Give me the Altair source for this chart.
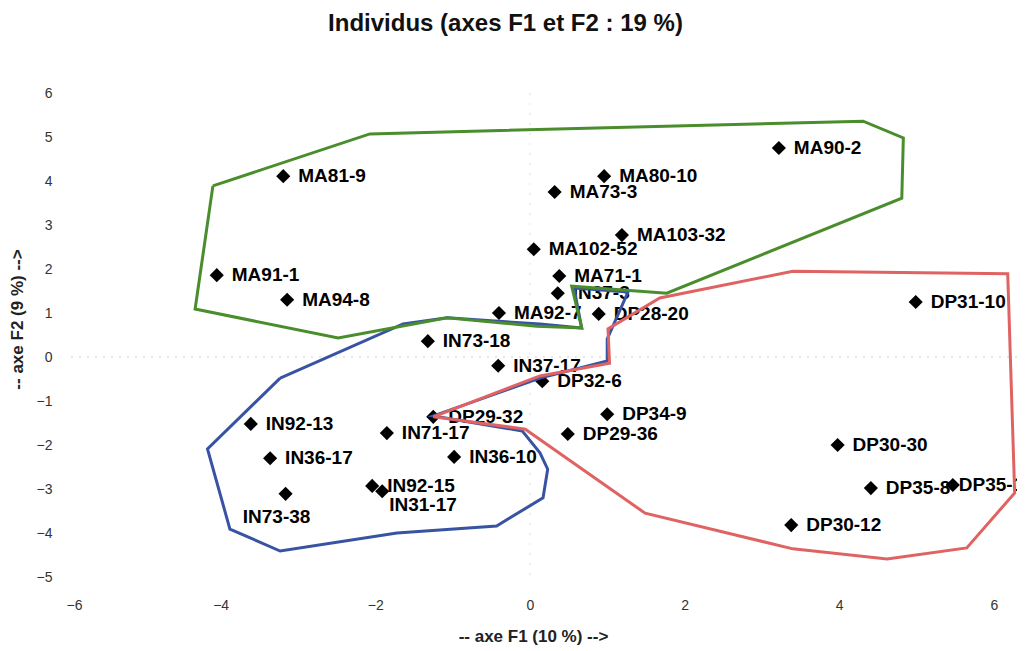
import altair as alt
import pandas as pd

# Individuals (F1, F2 coordinates)
names = ["MA90-2", "MA81-9", "MA80-10", "MA73-3", "MA103-32", "MA102-52", "MA91-1",
         "MA71-1", "MA94-8", "IN37-3", "MA92-7", "DP28-20", "DP31-10", "IN73-18",
         "IN37-17", "DP32-6", "DP29-32", "DP34-9", "IN92-13", "IN71-17", "DP29-36",
         "DP30-30", "IN36-17", "IN36-10", "IN92-15", "IN31-17", "IN73-38", "DP35-8",
         "DP35-11", "DP30-12"]
f1 = [3.22, -3.19, 0.96, 0.32, 1.19, 0.05, -4.05,
      0.38, -3.14, 0.36, -0.40, 0.89, 4.99, -1.32,
      -0.41, 0.16, -1.25, 1.00, -3.61, -1.85, 0.49,
      3.98, -3.36, -0.98, -2.04, -1.91, -3.16, 4.41,
      5.47, 3.38]
f2 = [4.75, 4.11, 4.11, 3.75, 2.77, 2.45, 1.86,
      1.84, 1.30, 1.45, 1.00, 0.98, 1.25, 0.36,
      -0.20, -0.55, -1.36, -1.30, -1.52, -1.73, -1.75,
      -2.00, -2.30, -2.27, -2.93, -3.05, -3.11, -2.98,
      -2.91, -3.82]

# Hand-drawn group outlines (vertices)
green_f1 = [-4.10, -2.07, 4.31, 4.83, 4.81, 1.77, 0.54, 0.67, 0.09, -1.07, -2.48, -4.33]
green_f2 = [3.89, 5.07, 5.36, 4.98, 3.61, 1.45, 1.61, 0.66, 0.70, 0.89, 0.43, 1.09]
blue_f1 = [-3.23, -1.64, -1.07, 0.13, 0.67, 0.57, 1.27, 1.00, 1.00, 0.13, -1.25,
           -0.10, 0.13, 0.23, 0.17, -0.43, -1.72, -3.23, -3.88, -4.17]
blue_f2 = [-0.48, 0.75, 0.89, 0.75, 0.66, 1.57, 1.48, 0.41, -0.09, -0.48, -1.34,
           -1.68, -2.18, -2.55, -3.20, -3.84, -4.00, -4.41, -3.91, -2.09]
red_f1 = [-1.25, 0.13, 1.03, 1.01, 1.68, 3.40, 6.18, 6.27, 5.65, 4.62, 3.40, 1.49, -0.06]
red_f2 = [-1.36, -0.43, -0.14, 0.64, 1.34, 1.95, 1.89, -3.09, -4.34, -4.59, -4.36, -3.55, -1.64]

x_ticks = [-6, -4, -2, 0, 2, 4, 6]
y_ticks = [-5, -4, -3, -2, -1, 0, 1, 2, 3, 4, 5, 6]

pts = pd.DataFrame({"name": names, "F1": f1, "F2": f2})


def outline(xs, ys):
    xs2 = xs + [xs[0]]
    ys2 = ys + [ys[0]]
    return pd.DataFrame({"i": list(range(len(xs2))), "F1": xs2, "F2": ys2})


FONT = "Liberation Sans"
xscale = alt.Scale(domain=[-6, 6.3], nice=False, zero=False)
yscale = alt.Scale(domain=[-5, 6], nice=False, zero=False)
xaxis = alt.Axis(values=x_ticks, grid=False, domain=False, ticks=False, labelPadding=21,
                 labelFontSize=14, labelColor="#333333", labelFont=FONT,
                 title="-- axe F1 (10 %) -->", titleFont=FONT, titleFontSize=17,
                 titleFontWeight="bold", titleColor="#222222", titleX=467, titleY=59,
                 titleBaseline="middle", titleAlign="center")
yaxis = alt.Axis(values=y_ticks, grid=False, domain=False, ticks=False, labelPadding=14,
                 labelFontSize=14, labelColor="#333333", labelFont=FONT,
                 title="-- axe F2 (9 %) -->", titleFont=FONT, titleFontSize=17,
                 titleFontWeight="bold", titleColor="#222222", titleX=-49, titleY=226,
                 titleAngle=270, titleAlign="center", titleBaseline="middle")


def X(field):
    return alt.X(field, type="quantitative", scale=xscale, axis=xaxis)


def Y(field):
    return alt.Y(field, type="quantitative", scale=yscale, axis=yaxis)


zero_h = alt.Chart(pd.DataFrame({"v": [0]})).mark_rule(
    color="#cfcfcf", strokeDash=[2, 6], strokeWidth=1).encode(y=Y("v"))
zero_v = alt.Chart(pd.DataFrame({"v": [0]})).mark_rule(
    color="#e0e0e0", strokeDash=[2, 8], strokeWidth=1).encode(x=X("v"))

base = alt.Chart(pts).encode(x=X("F1"), y=Y("F2"))
points = base.mark_point(shape="diamond", filled=True, color="black", size=200, opacity=1)

special = ["IN73-38", "IN31-17", "DP35-11"]
txt = dict(fontSize=19, fontWeight="bold", font=FONT, color="black")
labels = base.mark_text(align="left", baseline="middle", dx=15, **txt).encode(
    text="name:N").transform_filter(alt.FieldOneOfPredicate(field="name", oneOf=special).__invert__())
lab_below = base.mark_text(align="center", baseline="middle", dx=-9, dy=23, **txt).encode(
    text="name:N").transform_filter("datum.name == 'IN73-38'")
lab_31 = base.mark_text(align="left", baseline="middle", dx=7, dy=14, **txt).encode(
    text="name:N").transform_filter("datum.name == 'IN31-17'")
lab_35 = base.mark_text(align="left", baseline="middle", dx=6, **txt).encode(
    text="name:N").transform_filter("datum.name == 'DP35-11'")


def line(df, colour):
    return alt.Chart(df).mark_line(strokeWidth=3, color=colour).encode(
        x=X("F1"), y=Y("F2"), order="i:Q")


blue_line = line(outline(blue_f1, blue_f2), "#3953a3")
red_line = line(outline(red_f1, red_f2), "#e06363")
green_line = line(outline(green_f1, green_f2), "#4a8d2c")

chart = alt.layer(zero_h, zero_v, labels, lab_below, lab_31, lab_35, points,
                  blue_line, red_line, green_line).properties(
    width=951, height=484,
    autosize=alt.AutoSizeParams(type="none"),
    padding={"left": 58, "top": 85, "right": 0, "bottom": 70},
    title=alt.TitleParams("Individus (axes F1 et F2 : 19 %)", font=FONT, fontSize=24,
                          fontWeight="bold", color="#111111", anchor="middle",
                          frame="group", dx=-36, offset=50),
    background="white",
).configure_view(stroke=None)

chart.save("out.html", embed_options={"renderer": "svg", "actions": False})
